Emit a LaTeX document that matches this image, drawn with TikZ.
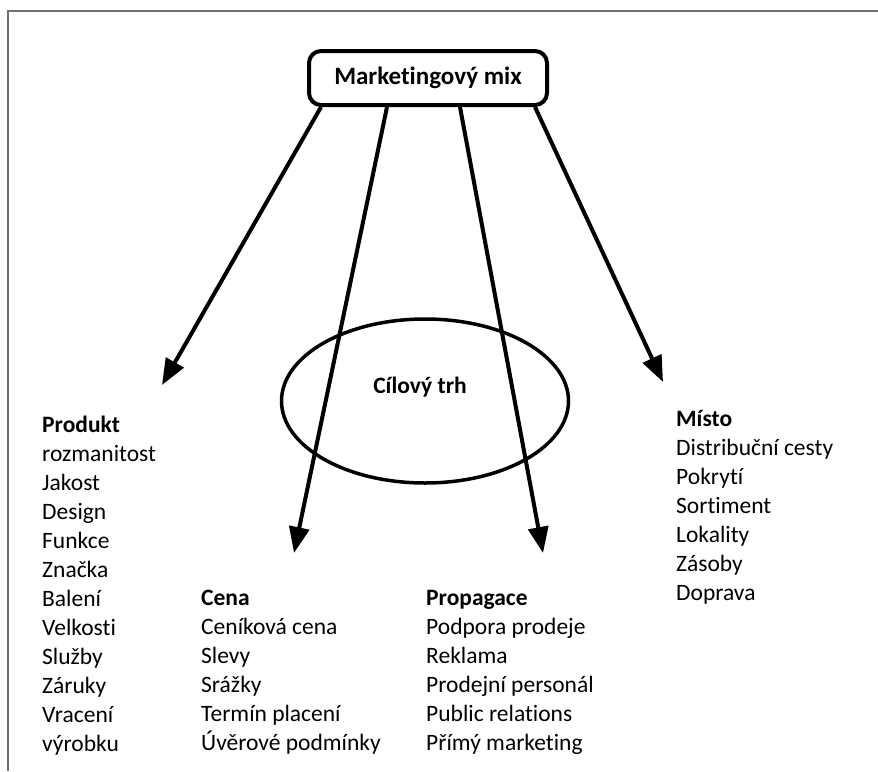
\documentclass[tikz,border=0pt]{standalone}
\usepackage{fontspec}
\setmainfont{Carlito}[RawFeature={-liga;-clig}]
\usetikzlibrary{shapes.geometric, arrows.meta}
\definecolor{FrameGray}{HTML}{707070}
\tikzset{
    % Box and outline styles
    mixbox/.style={
        rectangle,
        draw=black,
        rounded corners=12pt,
        line width=4pt,
        minimum width=238pt,
        minimum height=54pt,
        align=center,
        font=\fontsize{25}{29}\selectfont\bfseries
    },
    targetring/.style={
        ellipse,
        draw=black,
        line width=3.5pt,
        minimum width=287pt,
        minimum height=164pt
    },
    % Text styles
    heading/.style={
        anchor=base west,
        inner sep=0pt,
        font=\fontsize{23.5}{29}\selectfont\bfseries
    },
    item/.style={
        anchor=base west,
        inner sep=0pt,
        font=\fontsize{23.5}{29}\selectfont
    },
    % Arrow style
    arrow/.style={
        -{Triangle[length=26pt, width=20pt]},
        line width=4pt,
        draw=black
    }
}

\begin{document}
\begin{tikzpicture}[x=1pt, y=-1pt]
    \useasboundingbox (0,0) rectangle (878,771);
    \fill[white] (0,0) rectangle (878,771);
    \draw[FrameGray, line width=1.5pt] (8,771) -- (8,11) -- (878,11);

    % Centre
    \node[mixbox] (mix) at (428,78) {Marketingový mix};
    \node[targetring] (target) at (425,401) {};
    \node[font=\fontsize{23.5}{29}\selectfont\bfseries] (targetlabel) at (420,387) {Cílový trh};

    % Arrow ends
    \coordinate (tip-produkt) at (162,385);
    \coordinate (tip-cena) at (294,553);
    \coordinate (tip-propagace) at (543,553);
    \coordinate (tip-misto) at (663,382);

    \draw[arrow] ([xshift=14pt]mix.south west) -- (tip-produkt);
    \draw[arrow] ([xshift=80pt]mix.south west) -- (tip-cena);
    \draw[arrow] ([xshift=153pt]mix.south west) -- (tip-propagace);
    \draw[arrow] ([xshift=228pt]mix.south west) -- (tip-misto);

    % Produkt
    \node[heading] (produkt) at (42,432) {Produkt};
    \foreach \t [count=\i] in {rozmanitost, Jakost, Design, Funkce, Značka, Balení, Velkosti, Služby, Záruky, Vracení, výrobku} {
        \node[item] (produkt-\i) at (42,{432+29*\i}) {\t};
    }

    % Cena
    \node[heading] (cena) at (201,605) {Cena};
    \foreach \t [count=\i] in {Ceníková cena, Slevy, Srážky, Termín placení, Úvěrové podmínky} {
        \node[item] (cena-\i) at (201,{605+29*\i}) {\t};
    }

    % Propagace
    \node[heading] (propagace) at (426,605) {Propagace};
    \foreach \t [count=\i] in {Podpora prodeje, Reklama, Prodejní personál, Public relations, Přímý marketing} {
        \node[item] (propagace-\i) at (426,{605+29*\i}) {\t};
    }

    % Misto
    \node[heading] (misto) at (676,426) {Místo};
    \foreach \t [count=\i] in {Distribuční cesty, Pokrytí, Sortiment, Lokality, Zásoby, Doprava} {
        \node[item] (misto-\i) at (676,{426+29*\i}) {\t};
    }
\end{tikzpicture}
\end{document}
